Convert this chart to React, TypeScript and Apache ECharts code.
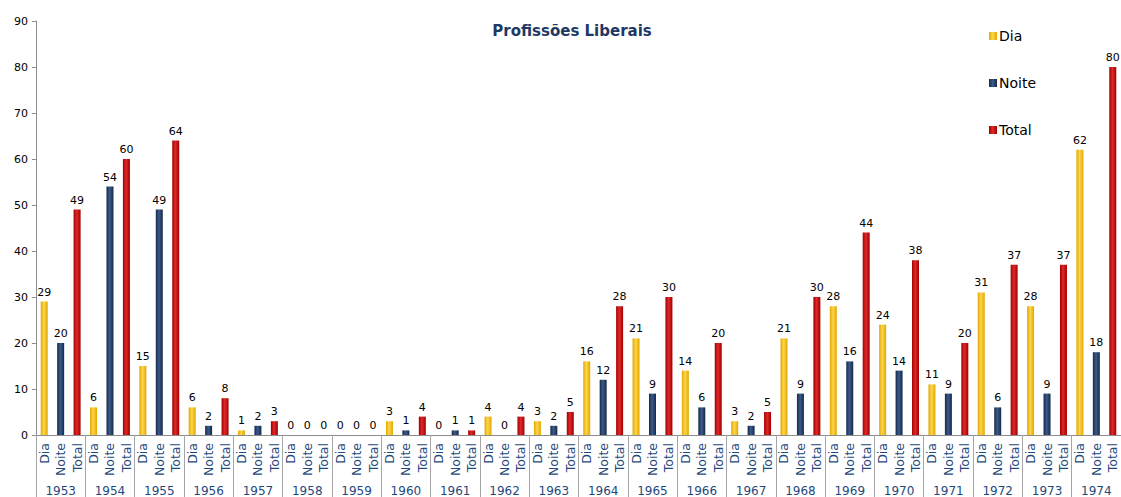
import React, { useEffect, useRef } from "react";
import * as echarts from "echarts";

const years = ["1953","1954","1955","1956","1957","1958","1959","1960","1961","1962","1963","1964","1965","1966","1967","1968","1969","1970","1971","1972","1973","1974"];
const subLabels = ["Dia", "Noite", "Total"];
const dia = [29, 6, 15, 6, 1, 0, 0, 3, 0, 4, 3, 16, 21, 14, 3, 21, 28, 24, 11, 31, 28, 62];
const noite = [20, 54, 49, 2, 2, 0, 0, 1, 1, 0, 2, 12, 9, 6, 2, 9, 16, 14, 9, 6, 9, 18];
const total = [49, 60, 64, 8, 3, 0, 0, 4, 1, 4, 5, 28, 30, 20, 5, 30, 44, 38, 20, 37, 37, 80];
const yTicks = { min: 0, max: 90, interval: 10 };

const FONT = "DejaVu Sans";
const BLUE_TEXT = "#1F497D";

function spread(values: number[], slot: number) {
  const out: (number | null)[] = [];
  values.forEach((v) => {
    for (let k = 0; k < 3; k++) out.push(k === slot ? v : null);
  });
  return out;
}

function grad(dark: string, light: string) {
  return new echarts.graphic.LinearGradient(0, 0, 1, 0, [
    { offset: 0, color: dark },
    { offset: 0.45, color: light },
    { offset: 1, color: dark },
  ]);
}

export default function App() {
  const ref = useRef<HTMLDivElement>(null);
  useEffect(() => {
    if (!ref.current) return;
    const chart = echarts.init(ref.current, null, { renderer: "svg" });
    const categories: string[] = [];
    years.forEach(() => subLabels.forEach((s) => categories.push(s)));
    const labelOpt = {
      show: true,
      position: "top" as const,
      distance: 4,
      fontSize: 11,
      fontFamily: FONT,
      color: "#000",
    };
    const mk = (name: string, vals: number[], slot: number, dark: string, light: string, legendColor: string) => ({
      name,
      type: "bar" as const,
      xAxisIndex: 0,
      data: spread(vals, slot),
      barWidth: 7,
      barGap: "-100%",
      itemStyle: { color: grad(dark, light) },
      label: labelOpt,
      color: legendColor,
    });
    chart.setOption({
      animation: false,
      title: {
        text: "Profissões Liberais",
        left: 567,
        textAlign: "center",
        top: 18,
        textStyle: { fontFamily: FONT, fontSize: 15, fontWeight: "bold", color: "#1F3864" },
      },
      legend: {
        orient: "vertical",
        left: 984,
        top: 24,
        itemGap: 33,
        itemWidth: 8,
        itemHeight: 8,
        icon: "rect",
        textStyle: { fontFamily: FONT, fontSize: 14, color: "#000", padding: [0, 0, 0, -3] },
        data: ["Dia", "Noite", "Total"],
      },
      grid: { left: 36, top: 21, width: 1089, bottom: 60, containLabel: false },
      xAxis: [
        {
          type: "category",
          data: categories,
          axisLine: { show: true, lineStyle: { color: "#8c8c8c" } },
          axisTick: { show: false },
          axisLabel: {
            interval: 0,
            rotate: 90,
            margin: 8,
            fontSize: 12.5,
            fontFamily: FONT,
            color: BLUE_TEXT,
          },
        },
        {
          type: "category",
          data: years,
          position: "bottom",
          axisLine: { show: false },
          axisTick: { show: true, interval: 0, length: 62, lineStyle: { color: "#a6a6a6" } },
          axisLabel: {
            interval: 0,
            margin: 50,
            fontSize: 12,
            fontFamily: FONT,
            color: BLUE_TEXT,
          },
        },
      ],
      yAxis: {
        type: "value",
        min: yTicks.min,
        max: yTicks.max,
        interval: yTicks.interval,
        axisLine: { show: true, lineStyle: { color: "#8c8c8c" } },
        axisTick: { show: true, length: 4, lineStyle: { color: "#8c8c8c" } },
        splitLine: { show: false },
        axisLabel: { fontSize: 11, fontFamily: FONT, color: "#000", margin: 8 },
      },
      series: [
        mk("Dia", dia, 0, "#e0a800", "#ffd54a", "#FFC000"),
        mk("Noite", noite, 1, "#14294a", "#3c5a8a", "#1F3864"),
        mk("Total", total, 2, "#a00000", "#e02828", "#C00000"),
      ],
    });
    return () => chart.dispose();
  }, []);
  return <div ref={ref} style={{ position: "absolute", left: 0, top: 0, width: 1121, height: 497 }} />;
}
